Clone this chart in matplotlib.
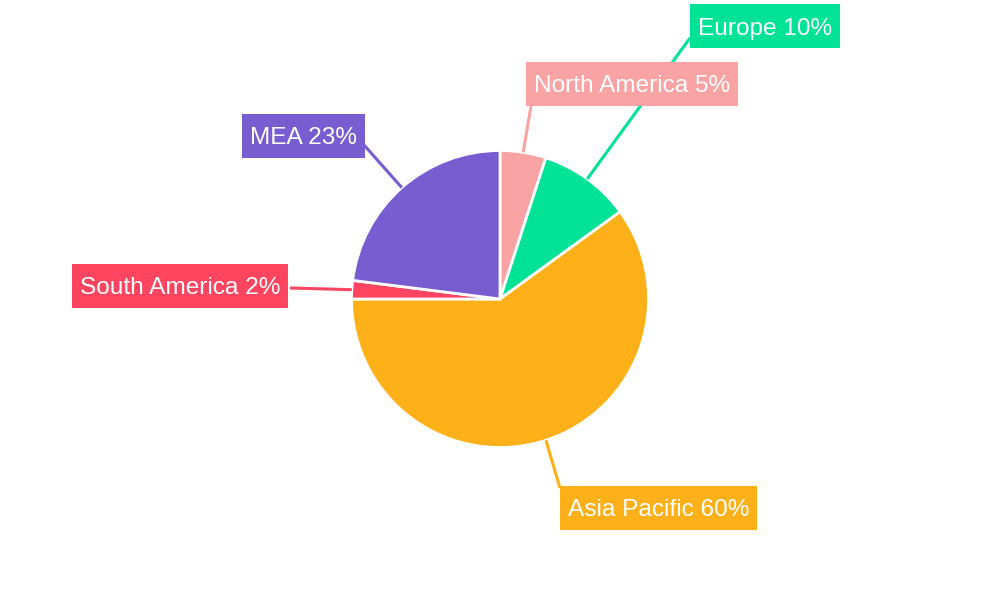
import numpy as np
import matplotlib
matplotlib.use("Agg")
import matplotlib.pyplot as plt
from matplotlib.patches import Rectangle

plt.rcParams['font.family'] = ['Liberation Sans', 'DejaVu Sans']

regions = ["North America", "Europe", "Asia Pacific", "South America", "MEA"]
shares = [5, 10, 60, 2, 23]
colors = ["#F9A3A4", "#00E396", "#FEB019", "#FF4560", "#775DD0"]

# label box layout in pixels (left edge, top edge) and where the leader line meets the box
box_pos = [(526, 62), (690, 4), (560, 486), (72, 264), (242, 114)]
line_end = [(531, 106), (690, 38), (560, 488), (290, 288), (364, 145)]

W, H = 1000, 600
cx, cy, R = 500, 299, 148.5
box_h, pad_x = 44, 8

def fy(y):
    return H - y

fig = plt.figure(figsize=(10, 6), dpi=100)
ax = fig.add_axes([0, 0, 1, 1])

wedges, _ = ax.pie(shares, colors=colors, startangle=90, counterclock=False,
                   center=(cx, fy(cy)), radius=R,
                   wedgeprops=dict(edgecolor='white', linewidth=2))
ax.set_xlim(0, W)
ax.set_ylim(0, H)
ax.set_aspect('auto')
ax.axis('off')

renderer = fig.canvas.get_renderer()
for w, name, val, col, (bx, by), (ex, ey) in zip(wedges, regions, shares, colors, box_pos, line_end):
    mid = np.deg2rad((w.theta1 + w.theta2) / 2)
    sx = cx + R * np.cos(mid)
    sy = fy(cy) + R * np.sin(mid)
    ax.plot([sx, ex], [sy, fy(ey)], color=col, lw=2.2, zorder=1, solid_capstyle='butt')
    t = ax.text(bx + pad_x, fy(by + box_h / 2 + 8.5), f"{name} {val}%", color='white',
                fontsize=17.6, ha='left', va='baseline', zorder=6)
    tw = t.get_window_extent(renderer).width
    ax.add_patch(Rectangle((bx, fy(by + box_h)), tw + 2 * pad_x, box_h,
                           fc=col, ec='none', zorder=5))

fig.savefig("out.png", dpi=100)
